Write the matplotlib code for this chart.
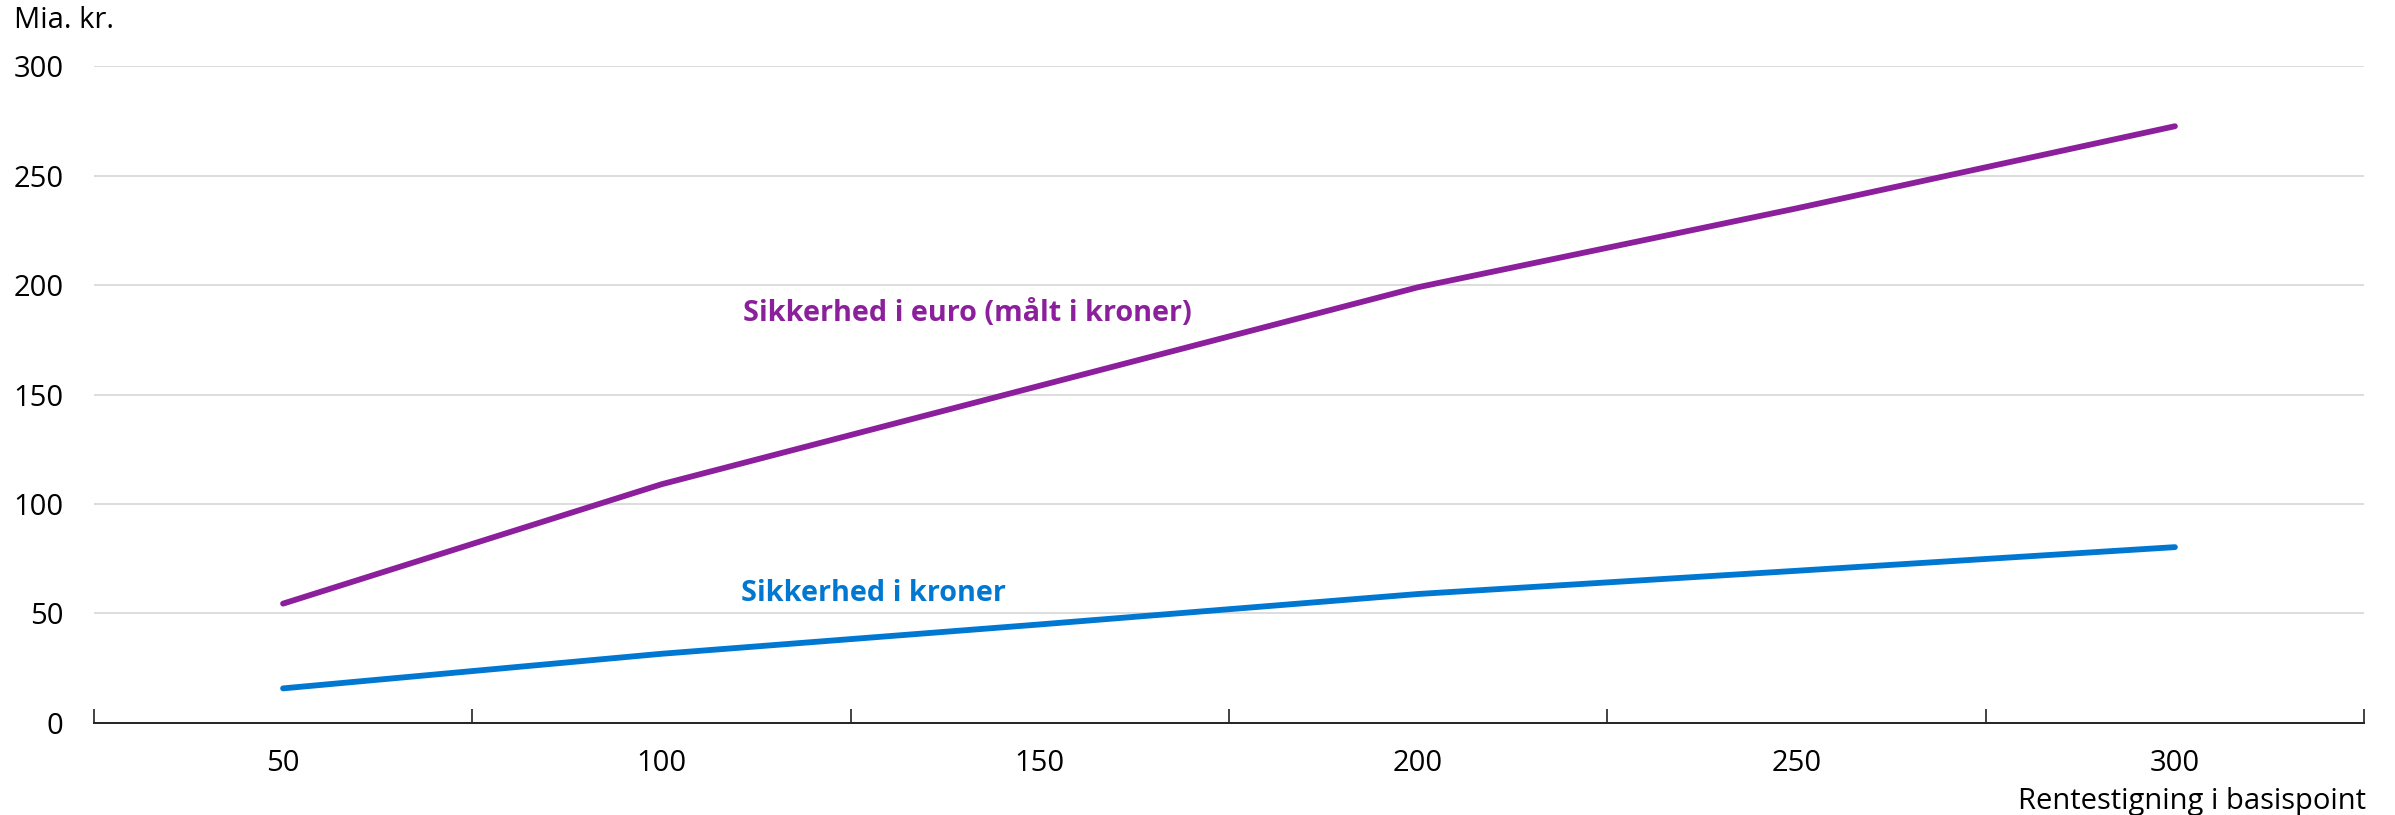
import matplotlib.pyplot as plt
from matplotlib.ticker import FixedLocator, NullFormatter

plt.rcParams['font.family'] = ['Open Sans', 'DejaVu Sans']

# Rentestigning i basispoint
basispoint = [50, 100, 150, 200, 250, 300]
# Mia. kr.
sikkerhed_euro = [54.5, 109, 154, 199, 235, 272.5]
sikkerhed_kroner = [15.8, 31.6, 45, 58.9, 69.5, 80.3]

y_ticks = [0, 50, 100, 150, 200, 250, 300]

purple = '#8c1f9c'
blue = '#0078d2'

fig = plt.figure(figsize=(23.95, 8.15), dpi=100)
ax = fig.add_axes([0.0392, 0.1129, 0.9479, 0.8061])

ax.plot(basispoint, sikkerhed_euro, color=purple, lw=4.2, solid_capstyle='round', zorder=3)
ax.plot(basispoint, sikkerhed_kroner, color=blue, lw=4.2, solid_capstyle='round', zorder=3)

ax.text(110.8, 187, 'Sikkerhed i euro (målt i kroner)', color=purple, fontsize=20.8,
        fontweight='bold', va='center', ha='left')
ax.text(110.5, 59, 'Sikkerhed i kroner', color=blue, fontsize=20.8,
        fontweight='bold', va='center', ha='left')

ax.set_xlim(25, 325)
ax.set_ylim(0, 300)

# tick marks sit between the categories, labels on the categories
ax.xaxis.set_major_locator(FixedLocator([25, 75, 125, 175, 225, 275, 325]))
ax.xaxis.set_major_formatter(NullFormatter())
ax.xaxis.set_minor_locator(FixedLocator(basispoint))
ax.set_xticklabels([str(b) for b in basispoint], minor=True)
ax.tick_params(axis='x', which='major', direction='in', length=10, width=1.2, color='#222222')
ax.tick_params(axis='x', which='minor', length=0, pad=19, labelsize=21)

ax.set_yticks(y_ticks)
ax.tick_params(axis='y', length=0, pad=22, labelsize=21)
ax.grid(axis='y', color='#d7d7d7', lw=1.2, zorder=0)
ax.set_axisbelow(True)

for s in ['top', 'right', 'left']:
    ax.spines[s].set_visible(False)
ax.spines['bottom'].set_color('#222222')
ax.spines['bottom'].set_linewidth(1.4)
ax.spines['bottom'].set_zorder(4)

fig.text(0.006, 0.975, 'Mia. kr.', fontsize=21, ha='left', va='center')
fig.text(0.988, 0.017, 'Rentestigning i basispoint', fontsize=21, ha='right', va='center')

fig.savefig('out.png', dpi=100, facecolor='white')
